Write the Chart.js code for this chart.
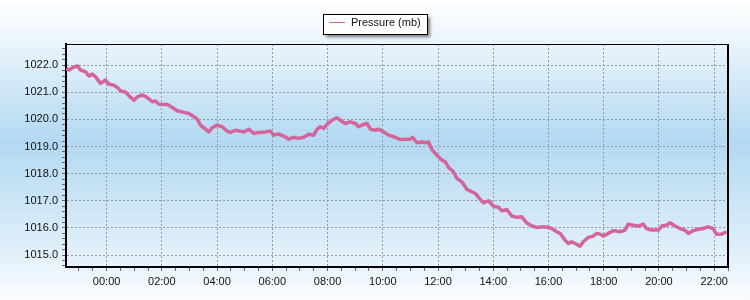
<!DOCTYPE html>
<html>
<head>
<meta charset="utf-8">
<script src="https://cdn.jsdelivr.net/npm/chart.js@4.4.1/dist/chart.umd.min.js"></script>
<style>
  html, body { margin: 0; padding: 0; background: #fff; }
  #wrap { width: 750px; height: 300px; }
</style>
</head>
<body>
<div id="wrap"><canvas id="pressureChart" width="750" height="300"></canvas></div>
<script>
// hours from midnight (negative = previous evening)
const hours = [
  -1.46, -1.36, -1.24, -1.06, -0.94, -0.76, -0.64, -0.52, -0.40, -0.22,
  -0.10, -0.04, 0.08, 0.26, 0.39, 0.51, 0.69, 0.81, 0.99, 1.11,
  1.29, 1.47, 1.65, 1.77, 1.89, 2.20, 2.38, 2.56, 2.80, 2.98,
  3.16, 3.28, 3.40, 3.58, 3.70, 3.82, 4.00, 4.18, 4.37, 4.48,
  4.67, 4.97, 5.15, 5.33, 5.51, 5.75, 5.93, 6.05, 6.23, 6.47,
  6.59, 6.77, 6.95, 7.14, 7.32, 7.50, 7.62, 7.74, 7.86, 7.98,
  8.16, 8.34, 8.46, 8.64, 8.82, 9.01, 9.12, 9.31, 9.43, 9.55,
  9.73, 9.85, 10.03, 10.21, 10.40, 10.63, 10.81, 10.99, 11.08, 11.24,
  11.42, 11.54, 11.66, 11.78, 11.96, 12.14, 12.26, 12.38, 12.56, 12.68,
  12.86, 13.05, 13.23, 13.35, 13.53, 13.65, 13.83, 14.01, 14.19, 14.31,
  14.49, 14.67, 14.85, 15.03, 15.21, 15.40, 15.58, 15.82, 16.00, 16.12,
  16.30, 16.42, 16.60, 16.72, 16.84, 17.02, 17.14, 17.26, 17.44, 17.62,
  17.75, 17.87, 17.99, 18.17, 18.35, 18.59, 18.77, 18.89, 19.07, 19.25,
  19.43, 19.55, 19.74, 19.98, 20.10, 20.28, 20.40, 20.58, 20.76, 20.94,
  21.06, 21.24, 21.42, 21.60, 21.78, 21.96, 22.08, 22.26, 22.45
];

const pressure = [
  1021.88, 1021.82, 1021.90, 1021.97, 1021.82, 1021.75, 1021.60, 1021.67, 1021.57, 1021.33,
  1021.41, 1021.45, 1021.30, 1021.26, 1021.18, 1021.05, 1021.00, 1020.87, 1020.71, 1020.83,
  1020.90, 1020.81, 1020.65, 1020.68, 1020.56, 1020.55, 1020.44, 1020.32, 1020.26, 1020.22,
  1020.10, 1020.01, 1019.79, 1019.64, 1019.54, 1019.69, 1019.79, 1019.73, 1019.57, 1019.52,
  1019.60, 1019.54, 1019.64, 1019.48, 1019.52, 1019.54, 1019.57, 1019.42, 1019.46, 1019.36,
  1019.27, 1019.34, 1019.30, 1019.34, 1019.45, 1019.42, 1019.64, 1019.73, 1019.67, 1019.82,
  1019.97, 1020.06, 1019.97, 1019.85, 1019.91, 1019.85, 1019.73, 1019.82, 1019.85, 1019.64,
  1019.60, 1019.64, 1019.54, 1019.42, 1019.36, 1019.26, 1019.27, 1019.27, 1019.34, 1019.14,
  1019.17, 1019.14, 1019.17, 1018.89, 1018.68, 1018.50, 1018.44, 1018.23, 1018.07, 1017.83,
  1017.70, 1017.42, 1017.33, 1017.27, 1017.05, 1016.93, 1017.00, 1016.80, 1016.76, 1016.63,
  1016.68, 1016.44, 1016.39, 1016.41, 1016.19, 1016.07, 1016.02, 1016.04, 1016.02, 1015.98,
  1015.86, 1015.80, 1015.55, 1015.43, 1015.49, 1015.40, 1015.33, 1015.49, 1015.65, 1015.70,
  1015.80, 1015.77, 1015.70, 1015.80, 1015.90, 1015.86, 1015.92, 1016.14, 1016.10, 1016.07,
  1016.14, 1015.98, 1015.92, 1015.92, 1016.07, 1016.10, 1016.19, 1016.07, 1015.98, 1015.92,
  1015.80, 1015.90, 1015.95, 1015.98, 1016.04, 1015.98, 1015.77, 1015.77, 1015.86
];

const seriesLabel = "Pressure (mb)";
const lineColor = "#d4649a";
const font = "'Liberation Sans', Arial, sans-serif";

function isWhole(v, step) {
  const r = v / step;
  return Math.abs(r - Math.round(r)) < 1e-6;
}

// page + plot background gradient
const backdrop = {
  id: "backdrop",
  beforeDraw(c) {
    const ctx = c.ctx;
    const g = ctx.createLinearGradient(0, 0, 0, c.height);
    g.addColorStop(0, "#ffffff");
    g.addColorStop(0.12, "#eef6fc");
    g.addColorStop(0.47, "#b3d9f2");
    g.addColorStop(0.85, "#e2f0fa");
    g.addColorStop(1, "#fbfdff");
    ctx.save();
    ctx.fillStyle = g;
    ctx.fillRect(0, 0, c.width, c.height);
    ctx.restore();
  },
  afterDraw(c) {
    const ctx = c.ctx;
    const a = c.chartArea;
    ctx.save();
    // top + right frame
    ctx.strokeStyle = "#000";
    ctx.lineWidth = 1;
    ctx.beginPath();
    ctx.moveTo(a.left, a.top + 0.5);
    ctx.lineTo(a.right, a.top + 0.5);
    ctx.stroke();
    ctx.lineWidth = 2;
    ctx.beginPath();
    ctx.moveTo(a.right, a.top);
    ctx.lineTo(a.right, a.bottom);
    ctx.stroke();

    // legend box
    const bx = 323, by = 14, bw = 104, bh = 20;
    ctx.fillStyle = "rgba(0,0,0,0.35)";
    ctx.shadowColor = "rgba(0,0,0,0.5)";
    ctx.shadowBlur = 3;
    ctx.shadowOffsetX = 3;
    ctx.shadowOffsetY = 3;
    ctx.fillStyle = "#fff";
    ctx.fillRect(bx, by, bw, bh);
    ctx.shadowColor = "transparent";
    ctx.strokeStyle = "#000";
    ctx.lineWidth = 1;
    ctx.strokeRect(bx + 0.5, by + 0.5, bw, bh);
    ctx.strokeStyle = lineColor;
    ctx.beginPath();
    ctx.moveTo(329, by + 8.5);
    ctx.lineTo(345, by + 8.5);
    ctx.stroke();
    ctx.fillStyle = "#111";
    ctx.font = "11px " + font;
    ctx.textBaseline = "middle";
    ctx.fillText(seriesLabel, 351, by + 9);
    ctx.restore();
  }
};

new Chart(document.getElementById("pressureChart"), {
  type: "line",
  data: {
    datasets: [{
      label: seriesLabel,
      data: hours.map((h, i) => ({ x: h, y: pressure[i] })),
      borderColor: lineColor,
      borderWidth: 3.5,
      pointRadius: 0,
      tension: 0,
      borderJoinStyle: "round"
    }]
  },
  options: {
    responsive: false,
    animation: false,
    layout: { padding: { top: 44, right: 22, left: 0, bottom: 0 } },
    plugins: {
      legend: { display: false },
      tooltip: { enabled: false }
    },
    scales: {
      x: {
        type: "linear",
        min: -1.47,
        max: 22.5,
        afterFit(s) { s.height = 33; },
        ticks: {
          stepSize: 0.5,
          includeBounds: false,
          autoSkip: false,
          maxRotation: 0,
          padding: 4,
          color: "#111",
          font: { family: font, size: 11 },
          callback(v) {
            if (!isWhole(v, 2)) return "";
            const h = ((Math.round(v) % 24) + 24) % 24;
            return String(h).padStart(2, "0") + ":00";
          }
        },
        grid: {
          color: c => isWhole(c.tick.value, 2) ? "#9a9a9a" : "transparent",
          tickColor: "#666",
          tickLength: 4,
          lineWidth: 1
        },
        border: { color: "#000", width: 2, dash: [2, 2] }
      },
      y: {
        min: 1014.56,
        max: 1022.78,
        afterFit(s) { s.width = 66; },
        ticks: {
          stepSize: 0.2,
          includeBounds: false,
          autoSkip: false,
          padding: 4,
          color: "#111",
          font: { family: font, size: 11 },
          callback(v) { return isWhole(v, 1) ? v.toFixed(1) : ""; }
        },
        grid: {
          color: c => isWhole(c.tick.value, 1) ? "#9a9a9a" : "transparent",
          tickColor: "#666",
          tickLength: 4,
          lineWidth: 1
        },
        border: { color: "#000", width: 2, dash: [2, 2] }
      }
    }
  },
  plugins: [backdrop]
});
</script>
</body>
</html>
